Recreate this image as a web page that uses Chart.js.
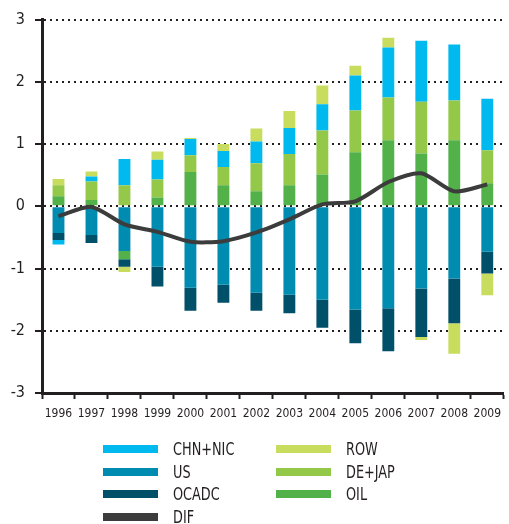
<!DOCTYPE html>
<html lang="en">
<head>
  <meta charset="UTF-8" />
  <title>DIF</title>
  <script src="https://cdn.jsdelivr.net/npm/chart.js"></script>
  <style>
    * { margin: 0; padding: 0; box-sizing: border-box; }
    body {
      width: 509px;
      height: 524px;
      background: #fff;
      overflow: hidden;
      font-family: 'DejaVu Sans Condensed', 'DejaVu Sans', sans-serif;
      color: #231f20;
    }
    #wrap { position: relative; width: 509px; height: 524px; }
    #grafico { position: absolute; left: 0; top: 0; }
    .item {
      position: absolute;
      height: 20px;
      display: flex;
      align-items: center;
      font-size: 17px;
      white-space: nowrap;
    }
    .sw { width: 55px; height: 8px; margin-right: 15px; }
    .txt { display: inline-block; transform: scaleX(0.84); transform-origin: left center; }
  </style>
</head>
<body>
  <div id="wrap">
    <canvas id="grafico" width="509" height="524"></canvas>
    <div id="legenda"></div>
  </div>

  <script>
    // dados
    const anos = ['1996', '1997', '1998', '1999', '2000', '2001', '2002', '2003', '2004', '2005', '2006', '2007', '2008', '2009'];
    const chn = [-0.075, 0.08, 0.42, 0.32, 0.26, 0.26, 0.35, 0.42, 0.42, 0.56, 0.80, 0.98, 0.90, 0.83];
    const us = [-0.43, -0.46, -0.72, -0.97, -1.31, -1.26, -1.39, -1.42, -1.50, -1.66, -1.64, -1.32, -1.16, -0.73];
    const ocadc = [-0.11, -0.13, -0.12, -0.32, -0.37, -0.29, -0.29, -0.30, -0.45, -0.54, -0.69, -0.78, -0.72, -0.35];
    const row = [0.10, 0.08, -0.085, 0.13, 0.016, 0.11, 0.21, 0.27, 0.30, 0.16, 0.16, -0.05, -0.49, -0.35];
    const dejap = [0.18, 0.30, 0.34, 0.29, 0.27, 0.29, 0.45, 0.50, 0.71, 0.67, 0.69, 0.83, 0.64, 0.53];
    const oil = [0.16, 0.10, -0.13, 0.14, 0.55, 0.34, 0.24, 0.34, 0.51, 0.87, 1.06, 0.85, 1.06, 0.37];
    const dif = [-0.16, -0.01, -0.29, -0.41, -0.57, -0.56, -0.42, -0.21, 0.03, 0.08, 0.39, 0.53, 0.24, 0.35];
    const yTicks = [-3, -2, -1, 0, 1, 2, 3];

    const cores = {
      'CHN+NIC': '#00b9ef',
      'US': '#008bb0',
      'OCADC': '#00506a',
      'DIF': '#3c3c3c',
      'ROW': '#c8dc5e',
      'DE+JAP': '#94c848',
      'OIL': '#52b148'
    };

    const fonte = "'DejaVu Sans Condensed', 'DejaVu Sans', sans-serif";
    const escuro = '#231f20';

    // ordem de empilhamento: US, OIL, OCADC, DE+JAP, CHN+NIC, ROW
    const barras = [
      ['US', us], ['OIL', oil], ['OCADC', ocadc], ['DE+JAP', dejap], ['CHN+NIC', chn], ['ROW', row]
    ].map(([nome, dados]) => ({
      type: 'bar',
      label: nome,
      data: dados,
      backgroundColor: cores[nome],
      borderWidth: 0,
      stack: 'a',
      order: 1,
      categoryPercentage: 1,
      barPercentage: 0.36
    }));

    const linha = {
      type: 'line',
      label: 'DIF',
      data: dif,
      borderColor: cores['DIF'],
      borderWidth: 4,
      pointRadius: 0,
      tension: 0.25,
      fill: false,
      stack: 'linha',
      order: 0
    };

    new Chart(document.getElementById('grafico'), {
      data: { labels: anos, datasets: [linha, ...barras] },
      options: {
        responsive: false,
        animation: false,
        layout: { padding: { top: 18, right: 0, left: 0, bottom: 0 } },
        plugins: { legend: { display: false }, tooltip: { enabled: false } },
        scales: {
          x: {
            stacked: true,
            offset: true,
            afterFit: (s) => { s.height = 131; },
            grid: {
              offset: true,
              drawOnChartArea: false,
              drawTicks: true,
              tickLength: 6,
              tickColor: escuro,
              tickWidth: 2
            },
            border: { display: true, color: escuro, width: 3 },
            ticks: {
              autoSkip: false,
              maxRotation: 0,
              padding: 8,
              color: escuro,
              font: { family: fonte, size: 12 }
            }
          },
          y: {
            stacked: true,
            min: -3,
            max: 3,
            z: 1,
            afterFit: (s) => { s.width = 42; },
            afterBuildTicks: (s) => { s.ticks = yTicks.map(v => ({ value: v })); },
            grid: {
              color: (c) => c.tick && c.tick.value === -3 ? 'rgba(0,0,0,0)' : escuro,
              lineWidth: 2,
              drawTicks: true,
              tickLength: 7,
              tickColor: escuro,
              tickWidth: 2
            },
            border: { display: true, color: escuro, width: 3, dash: [2, 4] },
            ticks: {
              padding: 10,
              color: escuro,
              font: { family: fonte, size: 16 }
            }
          }
        }
      }
    });

    // legenda em duas colunas
    const colunas = [['CHN+NIC', 'US', 'OCADC', 'DIF'], ['ROW', 'DE+JAP', 'OIL']];
    const xCol = [103, 276];
    const legenda = document.getElementById('legenda');
    colunas.forEach((col, c) => {
      col.forEach((nome, r) => {
        const div = document.createElement('div');
        div.className = 'item';
        div.style.left = xCol[c] + 'px';
        div.style.top = (439 + r * 22.6) + 'px';
        div.innerHTML = `<span class="sw" style="background:${cores[nome]}"></span><span class="txt">${nome}</span>`;
        legenda.appendChild(div);
      });
    });
  </script>
</body>
</html>
